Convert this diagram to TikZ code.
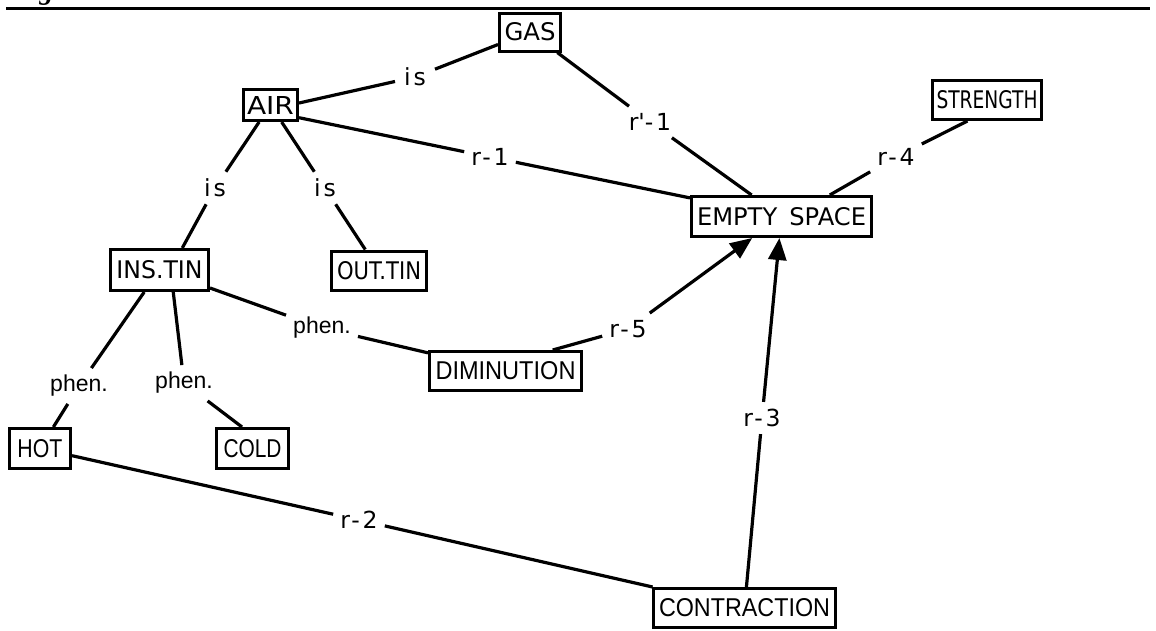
\documentclass[tikz,border=0pt]{standalone}
\usepackage{fontspec}
\usepackage{graphicx}
\usetikzlibrary{arrows.meta}
\newfontfamily\genevafont{DejaVu Sans}
\newfontfamily\helvfont{Liberation Sans}
\newfontfamily\linkfont[LetterSpace=12]{DejaVu Sans}
\newfontfamily\figfont{Liberation Serif}
% capital text squeezed to a given ink width, 18pt cap height
\newcommand{\capsfit}[3]{\resizebox{#2pt}{18pt}{#1#3}}
\tikzset{
  conceptbox/.style={draw, rectangle, line width=3pt, inner sep=0pt,
    minimum height=39pt},
  linklabel/.style={inner sep=7pt, font=\linkfont\fontsize{23.5}{24}\selectfont},
  phenlabel/.style={inner sep=7pt, font=\helvfont\fontsize{23}{24}\selectfont},
  link/.style={line width=3.2pt},
  arrowlink/.style={link, -{Triangle[length=22pt,width=18pt]}},
}
\begin{document}
\begin{tikzpicture}[x=1pt,y=-1pt]
\useasboundingbox (0,0) rectangle (1156,630);

% caption and rule at the head of the figure
\node[anchor=base west, inner sep=0pt, font=\figfont\bfseries\itshape\fontsize{28}{28}\selectfont] (caption) at (13,-1) {Fig. 3};
\draw[line width=3pt] (6,8) -- (1150,8);

% concepts
\node[conceptbox, minimum width=61pt, minimum height=38pt] (gas) at (530,32) {\capsfit{\genevafont}{51}{GAS}};
\node[conceptbox, minimum width=54pt, minimum height=31pt] (air) at (270.5,105) {\capsfit{\genevafont}{47}{AIR}};
\node[conceptbox, minimum width=109pt] (strength) at (987,100) {\capsfit{\genevafont}{101}{STRENGTH}};
\node[conceptbox, minimum width=180pt, minimum height=40pt] (empty) at (781.5,216.5) {\capsfit{\genevafont}{169}{EMPTY\hspace{0.5em}SPACE}};
\node[conceptbox, minimum width=98pt, minimum height=41pt] (instin) at (159.5,270) {\capsfit{\genevafont}{86}{INS.TIN}};
\node[conceptbox, minimum width=95pt] (outtin) at (379,270.5) {\capsfit{\genevafont}{84}{OUT.TIN}};
\node[conceptbox, minimum width=152pt] (dimin) at (505.5,371) {\capsfit{\helvfont}{140}{DIMINUTION}};
\node[conceptbox, minimum width=61pt, minimum height=40pt] (hot) at (40,448.5) {\capsfit{\helvfont}{45}{HOT}};
\node[conceptbox, minimum width=72pt, minimum height=40pt] (cold) at (252.5,448.5) {\capsfit{\helvfont}{58}{COLD}};
\node[conceptbox, minimum width=182pt] (contr) at (744.5,608) {\capsfit{\helvfont}{171}{CONTRACTION}};

% link labels
\node[linklabel, inner sep=9pt] (lis1) at (415,77) {is};
\node[linklabel] (lr1p) at (650,122) {r\textquotesingle-1};
\node[linklabel] (lr1) at (490,157) {r-1};
\node[linklabel] (lr4) at (896,157) {r-4};
\node[linklabel] (lis2) at (215,188) {is};
\node[linklabel] (lis3) at (325,188) {is};
\node[phenlabel] (lph1) at (322,328) {phen.};
\node[linklabel] (lr5) at (628,329) {r-5};
\node[phenlabel] (lph2) at (79,386) {phen.};
\node[phenlabel] (lph3) at (184,383) {phen.};
\node[linklabel] (lr3) at (762,418) {r-3};
\node[linklabel] (lr2) at (359,520) {r-2};

% links
\draw[link] (gas) -- (lis1);
\draw[link] (lis1) -- (air.4);
\draw[link] (gas) -- (lr1p);
\draw[link] (lr1p) -- (empty);
\draw[link] (air.-24) -- (lr1);
\draw[link] (lr1) -- (empty);
\draw[link] (strength.-133) -- (lr4);
\draw[link] (lr4) -- (empty.24);
\draw[link] (air) -- (lis2);
\draw[link] (lis2) -- (instin.44);
\draw[link] (air) -- (lis3);
\draw[link] (lis3) -- (outtin);
\draw[link] (instin) -- (lph1);
\draw[link] (lph1) -- (dimin);
\draw[link] (dimin.24) -- (lr5);
\draw[arrowlink] (lr5) -- (empty);
\draw[link] (instin) -- (lph2);
\draw[link] (lph2) -- (hot);
\draw[link] (instin.-58) -- (lph3);
\draw[link] (lph3) -- (cold.116);
\draw[link] (contr) -- (lr3);
\draw[arrowlink] (lr3) -- (empty);
\draw[link] (hot) -- (lr2);
\draw[link] (lr2) -- (contr);
\end{tikzpicture}
\end{document}
